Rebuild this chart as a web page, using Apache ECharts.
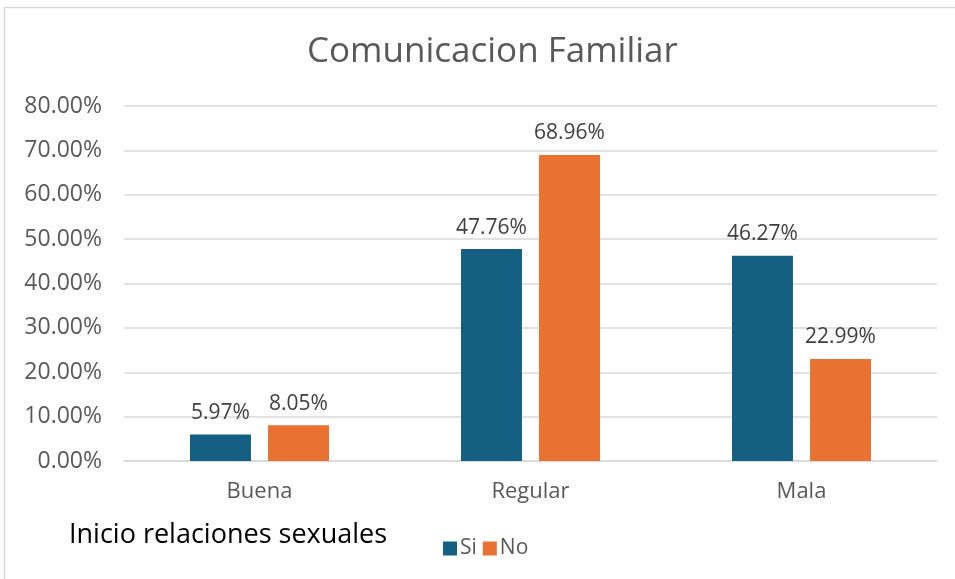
<!DOCTYPE html>
<html>
<head>
<meta charset="utf-8">
<script src="https://cdn.jsdelivr.net/npm/echarts@6/dist/echarts.min.js"></script>
<style>
  html, body { margin: 0; padding: 0; background: #fff; }
  #chart { width: 955px; height: 579px; }
</style>
</head>
<body>
<div id="chart"></div>
<script>
// datos del grafico
var categorias = ['Buena', 'Regular', 'Mala'];
var valoresSi = [5.97, 47.76, 46.27];
var valoresNo = [8.05, 68.96, 22.99];
var nombresSeries = ['Si', 'No'];

var fuente = 'Open Sans';
var myChart = echarts.init(document.getElementById('chart'));

var option = {
    animation: false,
    textStyle: { fontFamily: fuente },
    title: [
        {
            text: 'Comunicacion Familiar',
            left: 302,
            top: 30,
            textStyle: { fontSize: 35, fontWeight: 'normal', color: '#595959', fontFamily: fuente }
        },
        {
            text: 'Inicio relaciones sexuales',
            left: 64,
            top: 517,
            textStyle: { fontSize: 27, fontWeight: 'normal', color: '#000', fontFamily: fuente }
        }
    ],
    graphic: [{
        type: 'rect',
        shape: { x: 4.5, y: 7.5, width: 960, height: 600 },
        style: { fill: 'none', stroke: '#d9d9d9', lineWidth: 1.5 },
        silent: true
    }],
    legend: {
        data: nombresSeries,
        left: 438,
        top: 533,
        itemWidth: 14,
        itemHeight: 14,
        itemGap: 6,
        icon: 'rect',
        textStyle: { fontSize: 21, color: '#595959', padding: [0, 0, 0, -2] }
    },
    grid: {
        left: 124,
        right: 18,
        top: 106,
        bottom: 118,
        containLabel: false
    },
    xAxis: {
        type: 'category',
        data: categorias,
        axisTick: { show: false },
        axisLine: { lineStyle: { color: '#d9d9d9', width: 1.5 } },
        axisLabel: { fontSize: 22, color: '#595959', margin: 20 }
    },
    yAxis: {
        type: 'value',
        min: 0,
        max: 80,
        interval: 10,
        axisLine: { show: false },
        axisTick: { show: false },
        splitLine: { lineStyle: { color: '#d9d9d9', width: 1.5 } },
        axisLabel: {
            fontSize: 23,
            color: '#595959',
            margin: 22,
            formatter: function (v) { return v.toFixed(2) + '%'; }
        }
    },
    series: [
        {
            name: nombresSeries[0],
            type: 'bar',
            data: valoresSi,
            barWidth: '22.5%',
            barGap: '28%',
            itemStyle: { color: '#156082' },
            label: {
                show: true,
                position: 'top',
                distance: 11,
                fontSize: 21,
                color: '#404040',
                formatter: function (p) { return p.value.toFixed(2) + '%'; }
            }
        },
        {
            name: nombresSeries[1],
            type: 'bar',
            data: valoresNo,
            barWidth: '22.5%',
            itemStyle: { color: '#E97132' },
            label: {
                show: true,
                position: 'top',
                distance: 11,
                fontSize: 21,
                color: '#404040',
                formatter: function (p) { return p.value.toFixed(2) + '%'; }
            }
        }
    ]
};

myChart.setOption(option);
</script>
</body>
</html>
